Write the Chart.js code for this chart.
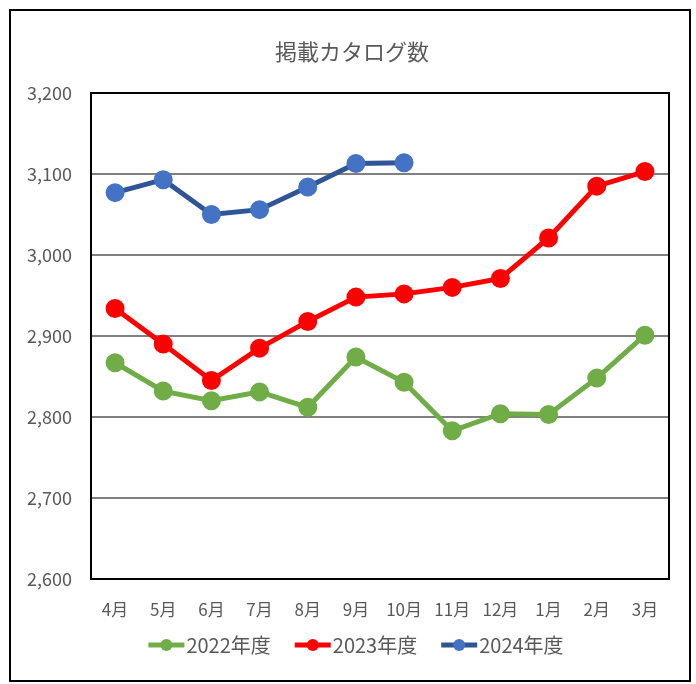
<!DOCTYPE html>
<html>
<head>
<meta charset="utf-8">
<script src="https://cdn.jsdelivr.net/npm/chart.js@4"></script>
<style>
    body { margin: 0; background: #fff; }
    #frame {
        position: absolute; left: 9px; top: 9px;
        width: 678px; height: 669px;
        border: 2px solid #000;
    }
    #frame canvas { display: block; }
</style>
</head>
<body>
<div id="frame"><canvas id="catalogChart" width="678" height="669"></canvas></div>
<script>
const chartTitle = '掲載カタログ数';
const months = ['4月', '5月', '6月', '7月', '8月', '9月', '10月', '11月', '12月', '1月', '2月', '3月'];
const fy2022 = [2867, 2832, 2820, 2831, 2812, 2874, 2843, 2783, 2804, 2803, 2848, 2901];
const fy2023 = [2934, 2890, 2845, 2885, 2918, 2948, 2952, 2960, 2971, 3021, 3085, 3103];
const fy2024 = [3077, 3093, 3050, 3056, 3084, 3113, 3114, null, null, null, null, null];

const FONT = '"Noto Sans CJK JP", "Noto Sans", sans-serif';
const GRAY = '#595959';

// box around the plot area
const plotBox = {
    id: 'plotBox',
    afterDatasetsDraw(chart) {
        const a = chart.chartArea;
        const ctx = chart.ctx;
        ctx.save();
        ctx.strokeStyle = '#000';
        ctx.lineWidth = 2;
        ctx.strokeRect(a.left, a.top, a.right - a.left, a.bottom - a.top);
        ctx.restore();
    }
};

// title centred on the whole frame, not the padded layout box
const frameTitle = {
    id: 'frameTitle',
    afterDraw(chart) {
        const ctx = chart.ctx;
        ctx.save();
        ctx.font = '22px ' + FONT;
        ctx.fillStyle = GRAY;
        ctx.textAlign = 'center';
        ctx.textBaseline = 'middle';
        ctx.fillText(chartTitle, chart.width / 2 + 2, 41);
        ctx.restore();
    }
};

// legend with line + marker like the spreadsheet one
const lineLegend = {
    id: 'lineLegend',
    afterDraw(chart) {
        const ctx = chart.ctx;
        const sets = chart.data.datasets;
        const lineLen = 36, gapText = 2, gapItem = 24;
        ctx.save();
        ctx.font = '20px ' + FONT;
        ctx.textBaseline = 'middle';
        let total = 0;
        sets.forEach((ds, i) => {
            total += lineLen + gapText + ctx.measureText(ds.label).width;
            if (i < sets.length - 1) total += gapItem;
        });
        let x = (chart.width - total) / 2 + 6;
        const y = 634;
        sets.forEach(ds => {
            ctx.strokeStyle = ds.borderColor;
            ctx.lineWidth = 5;
            ctx.beginPath();
            ctx.moveTo(x, y);
            ctx.lineTo(x + lineLen, y);
            ctx.stroke();
            ctx.fillStyle = ds.pointBackgroundColor;
            ctx.beginPath();
            ctx.arc(x + lineLen / 2, y, 6, 0, Math.PI * 2);
            ctx.fill();
            x += lineLen + gapText;
            ctx.fillStyle = GRAY;
            ctx.fillText(ds.label, x, y);
            x += ctx.measureText(ds.label).width + gapItem;
        });
        ctx.restore();
    }
};

function makeSet(label, values, lineColor, pointColor) {
    return {
        label: label,
        data: values,
        borderColor: lineColor,
        backgroundColor: pointColor,
        pointBackgroundColor: pointColor,
        pointBorderColor: pointColor,
        borderWidth: 5,
        pointRadius: 7,
        pointHoverRadius: 7,
        spanGaps: false
    };
}

new Chart(document.getElementById('catalogChart'), {
    type: 'line',
    data: {
        labels: months,
        datasets: [
            makeSet('2022年度', fy2022, '#70AD47', '#70AD47'),
            makeSet('2023年度', fy2023, '#FF0000', '#FF0000'),
            makeSet('2024年度', fy2024, '#2F5597', '#4472C4')
        ]
    },
    options: {
        responsive: false,
        animation: false,
        layout: { padding: { left: 0, right: 20, top: 82, bottom: 0 } },
        plugins: {
            legend: { display: false },
            tooltip: { enabled: false },
            title: { display: false }
        },
        scales: {
            x: {
                offset: true,
                grid: { display: false, drawTicks: false, offset: true },
                border: { display: false },
                ticks: { color: GRAY, font: { family: FONT, size: 17 }, padding: 20, maxRotation: 0, autoSkip: false },
                afterFit(scale) { scale.height = 101; }
            },
            y: {
                min: 2600,
                max: 3200,
                grid: { color: '#808080', lineWidth: 2, drawTicks: false },
                border: { display: false },
                ticks: {
                    stepSize: 100,
                    color: GRAY,
                    font: { family: FONT, size: 18 },
                    padding: 19,
                    callback: v => v.toLocaleString('en-US')
                },
                afterFit(scale) { scale.width = 80; }
            }
        }
    },
    plugins: [plotBox, frameTitle, lineLegend]
});
</script>
</body>
</html>
